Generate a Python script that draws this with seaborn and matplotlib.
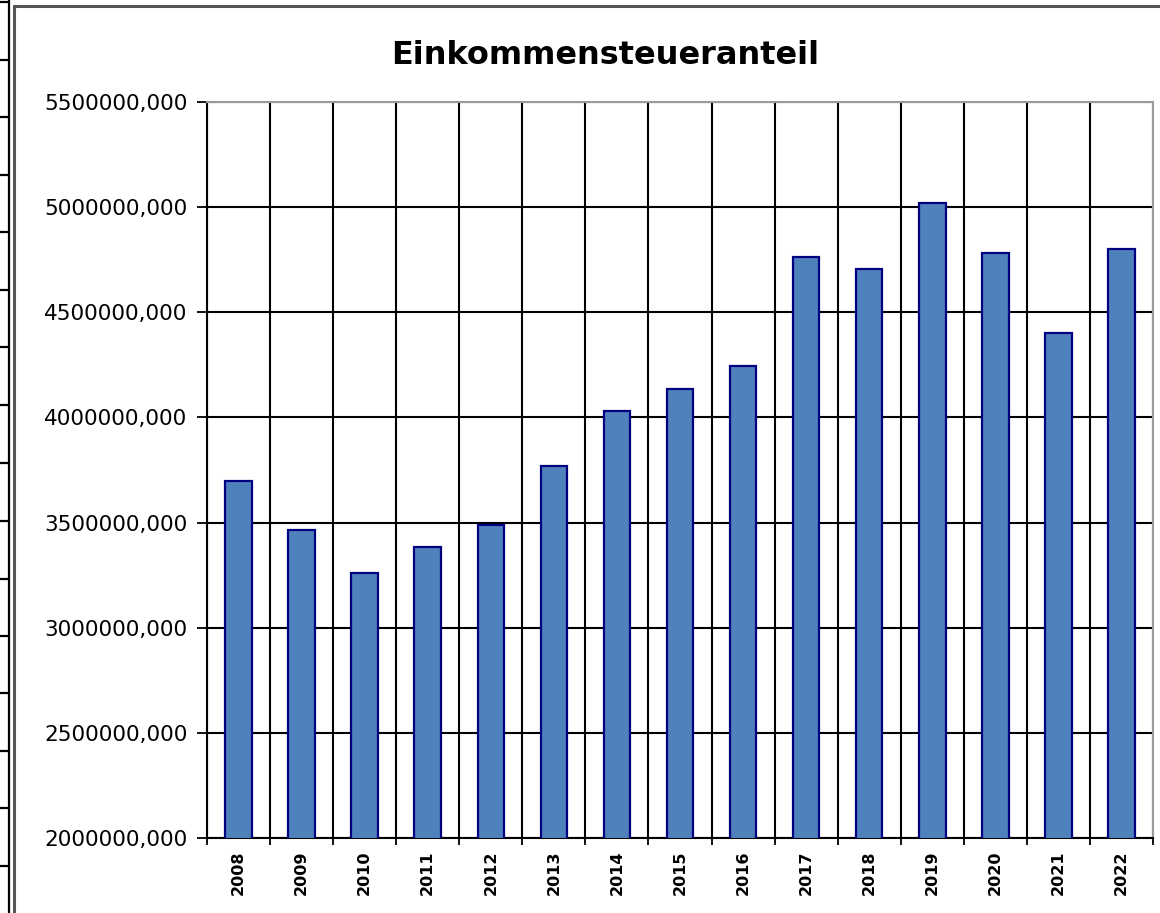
import matplotlib
matplotlib.use("Agg")
import matplotlib.pyplot as plt
from matplotlib.lines import Line2D
from matplotlib.ticker import FuncFormatter, FixedLocator
import seaborn as sns
import pandas as pd
import numpy as np

# Daten
jahre = ["2008", "2009", "2010", "2011", "2012", "2013", "2014", "2015",
         "2016", "2017", "2018", "2019", "2020", "2021", "2022"]
werte = [3700000, 3465000, 3260000, 3385000, 3490000, 3770000, 4030000, 4135000,
         4245000, 4765000, 4705000, 5020000, 4780000, 4400000, 4800000]
titel = "Einkommensteueranteil"

df = pd.DataFrame({"Jahr": jahre, "Wert": werte})

sns.set_style("white")
plt.rcParams['font.family'] = ['DejaVu Sans']

W, H = 1160, 913
fig = plt.figure(figsize=(W / 100, H / 100), dpi=100)
ax = fig.add_axes([207 / W, 1 - 838 / H, (1153 - 207) / W, (838 - 102) / H])

sns.barplot(data=df, x="Jahr", y="Wert", color="#4F81BD", edgecolor="#000080",
            linewidth=1.6, width=0.42, saturation=1, ax=ax, zorder=3)

ax.set_ylim(2000000, 5500000)
ax.set_xlim(-0.5, len(jahre) - 0.5)
ax.set_yticks(np.arange(2000000, 5500001, 500000))
ax.yaxis.set_major_formatter(FuncFormatter(lambda v, p: f"{v:.3f}".replace(".", ",")))
ax.set_xlabel("")
ax.set_ylabel("")

# Gitter: horizontal an Hauptticks, vertikal an Kategoriegrenzen
ax.xaxis.set_minor_locator(FixedLocator(np.arange(-0.5, len(jahre), 1.0)))
ax.grid(True, axis="y", which="major", color="black", linewidth=1.5, zorder=1)
ax.grid(True, axis="x", which="minor", color="black", linewidth=1.5, zorder=1)
ax.set_axisbelow(True)

ax.tick_params(axis="y", which="major", direction="out", length=7, width=1.3,
               color="black", pad=7, labelsize=15.5, labelcolor="black", left=True)
ax.tick_params(axis="x", which="major", length=0, pad=9, labelsize=11.5,
               labelcolor="black", labelrotation=90)
ax.tick_params(axis="x", which="minor", direction="out", length=5, width=1.3,
               color="black", bottom=True)
for lab in ax.get_xticklabels():
    lab.set_fontweight("bold")

for side in ["left", "bottom"]:
    ax.spines[side].set_color("black")
    ax.spines[side].set_linewidth(1.5)
for side in ["top", "right"]:
    ax.spines[side].set_color("#9a9a9a")
    ax.spines[side].set_linewidth(1.5)

fig.text(605 / W, 1 - 55 / H, titel, ha="center", va="center",
         fontsize=23, fontweight="bold", color="black")

# Rahmen des Diagramms (Excel-Look) und Tabellenraster links
def px(x, y):
    return x / W, 1 - y / H

fig.add_artist(Line2D([px(14, 0)[0], px(14, 0)[0]], [px(0, 6)[1], 0],
                      color="#555555", linewidth=2.2))
fig.add_artist(Line2D([px(14, 0)[0], 1], [px(0, 6)[1], px(0, 6)[1]],
                      color="#555555", linewidth=2.2))
fig.add_artist(Line2D([px(9, 0)[0], px(9, 0)[0]], [0, 1],
                      color="black", linewidth=1.6))
for y in [2, 60, 117, 175, 232, 290, 347, 405, 463, 521, 579, 636, 693, 751, 808, 866]:
    fig.add_artist(Line2D([0, px(9, 0)[0]], [px(0, y)[1], px(0, y)[1]],
                          color="black", linewidth=1.6))

fig.savefig("out.png", dpi=100)
